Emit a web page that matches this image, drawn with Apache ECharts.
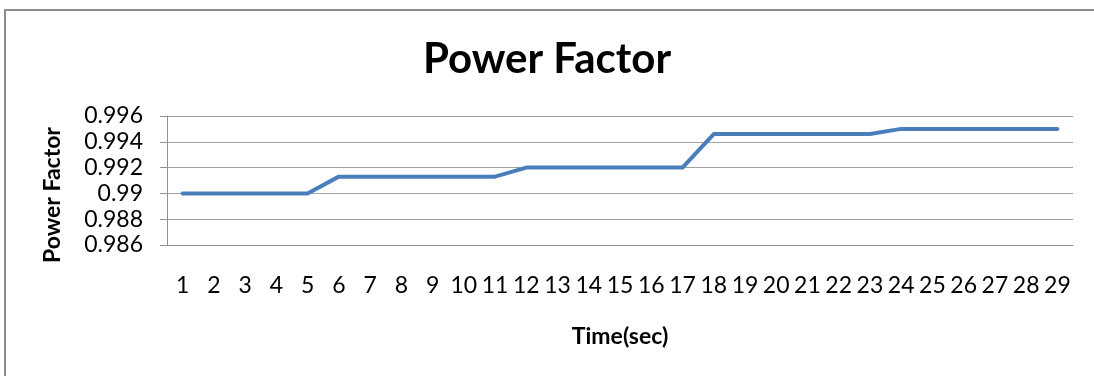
<!DOCTYPE html>
<html>
<head>
<meta charset="utf-8">
<script src="https://cdn.jsdelivr.net/npm/echarts@6/dist/echarts.min.js"></script>
<style>
  html, body { margin: 0; padding: 0; background: #fff; }
  #chart { width: 1094px; height: 376px; }
</style>
</head>
<body>
<div id="chart"></div>
<script>
// Time axis categories (seconds)
const timeSec = ['1','2','3','4','5','6','7','8','9','10','11','12','13','14','15',
                 '16','17','18','19','20','21','22','23','24','25','26','27','28','29'];
// Power factor measured at each second
const powerFactor = [0.990, 0.990, 0.990, 0.990, 0.990,
                     0.9913, 0.9913, 0.9913, 0.9913, 0.9913, 0.9913,
                     0.992, 0.992, 0.992, 0.992, 0.992, 0.992,
                     0.9946, 0.9946, 0.9946, 0.9946, 0.9946, 0.9946,
                     0.995, 0.995, 0.995, 0.995, 0.995, 0.995];
const yMin = 0.986, yMax = 0.996, yStep = 0.002;

const FONT = 'Lato, "Open Sans", sans-serif';
const chart = echarts.init(document.getElementById('chart'));
chart.setOption({
  animation: false,
  backgroundColor: '#ffffff',
  title: {
    text: 'Power Factor',
    left: 'center',
    top: 38,
    itemGap: 0,
    padding: 0,
    textStyle: { fontFamily: FONT, fontWeight: 'bold', fontSize: 42, color: '#000' }
  },
  graphic: [
    {
      type: 'rect',
      shape: { x: 5, y: 10, width: 1110, height: 400 },
      style: { fill: 'none', stroke: '#8c8c8c', lineWidth: 2 },
      silent: true
    },
    {
      type: 'text',
      x: 53, y: 195,
      rotation: Math.PI / 2,
      style: {
        text: 'Power Factor',
        fontFamily: FONT, fontWeight: 'bold', fontSize: 23, fill: '#000',
        align: 'center', verticalAlign: 'middle'
      }
    }
  ],
  grid: { left: 167, right: 21, top: 116, bottom: 131, containLabel: false },
  xAxis: {
    type: 'category',
    data: timeSec,
    boundaryGap: true,
    name: 'Time(sec)',
    nameLocation: 'middle',
    nameGap: 80,
    nameTextStyle: { fontFamily: FONT, fontWeight: 'bold', fontSize: 23, color: '#000' },
    axisLine: { lineStyle: { color: '#909090', width: 1 } },
    axisTick: { show: false },
    axisLabel: { interval: 0, margin: 29, fontFamily: FONT, fontSize: 23, color: '#000' }
  },
  yAxis: {
    type: 'value',
    min: yMin, max: yMax, interval: yStep,
    axisLine: { show: true, lineStyle: { color: '#909090', width: 1 } },
    axisTick: { show: true, length: 7, lineStyle: { color: '#909090' } },
    axisLabel: {
      margin: 24, fontFamily: FONT, fontSize: 23, color: '#000',
      formatter: v => String(parseFloat(v.toFixed(3)))
    },
    splitLine: { show: true, lineStyle: { color: '#a0a0a0', width: 1 } }
  },
  series: [{
    type: 'line',
    data: powerFactor,
    symbol: 'none',
    lineStyle: { color: '#4a7ebb', width: 4, cap: 'round', join: 'round' },
    itemStyle: { color: '#4a7ebb' }
  }]
});
</script>
</body>
</html>
